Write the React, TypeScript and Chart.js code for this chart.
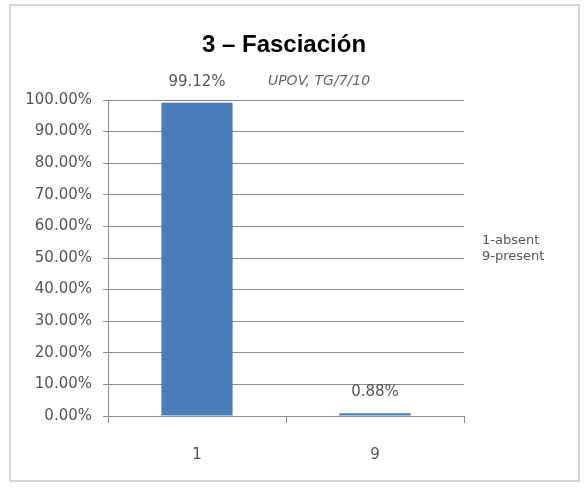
import React, { useEffect, useRef } from "react";
import { Chart, registerables } from "chart.js";

Chart.register(...registerables);

const categories = ["1", "9"];
const values = [0.9912, 0.0088];
const valueLabels = ["99.12%", "0.88%"];
const titleText = "3 – Fasciación";
const sourceText = "UPOV, TG/7/10";
const noteLines = ["1-absent", "9-present"];

const FONT = '"DejaVu Sans", sans-serif';
const TEXT_COLOR = "#555555";

const decorPlugin = {
  id: "decor",
  beforeDraw(chart: any) {
    const ctx = chart.ctx;
    ctx.save();
    ctx.fillStyle = "#ffffff";
    ctx.fillRect(0, 0, chart.width, chart.height);
    ctx.strokeStyle = "#d6d6d6";
    ctx.lineWidth = 2;
    ctx.strokeRect(10, 5, 569, 476);
    ctx.restore();
  },
  afterDraw(chart: any) {
    const ctx = chart.ctx;
    const area = chart.chartArea;
    ctx.save();
    ctx.fillStyle = "#000000";
    ctx.font = 'bold 24px "Liberation Sans", Arial, sans-serif';
    ctx.textAlign = "center";
    ctx.textBaseline = "alphabetic";
    ctx.fillText(titleText, 284, 52);
    const meta = chart.getDatasetMeta(0);
    ctx.font = "15px " + FONT;
    ctx.fillStyle = TEXT_COLOR;
    ctx.textBaseline = "middle";
    meta.data.forEach((bar: any, i: number) => {
      ctx.fillText(valueLabels[i], bar.x, bar.y - 21);
    });
    ctx.font = "italic 14px " + FONT;
    ctx.fillStyle = "#666666";
    ctx.fillText(sourceText, 319, 81);
    ctx.font = "13px " + FONT;
    ctx.fillStyle = TEXT_COLOR;
    ctx.textAlign = "left";
    noteLines.forEach((t, i) => {
      ctx.fillText(t, area.right + 18, 241 + i * 16);
    });
    ctx.restore();
  },
};

export default function App() {
  const ref = useRef<HTMLCanvasElement | null>(null);
  useEffect(() => {
    if (!ref.current) return;
    const chart = new Chart(ref.current, {
      type: "bar",
      data: {
        labels: categories,
        datasets: [
          {
            data: values,
            backgroundColor: "#4a7ebb",
            borderWidth: 0,
            categoryPercentage: 1,
            barPercentage: 0.4,
          },
        ],
      },
      options: {
        responsive: false,
        animation: false,
        devicePixelRatio: 1,
        layout: { padding: { left: 0, right: 120, top: 100, bottom: 0 } },
        plugins: {
          legend: { display: false },
          title: { display: false },
          tooltip: { enabled: false },
        },
        scales: {
          x: {
            grid: {
              offset: true,
              drawOnChartArea: false,
              drawTicks: true,
              tickLength: 7,
              color: "#8c8c8c",
            },
            border: { color: "#8c8c8c" },
            ticks: {
              color: TEXT_COLOR,
              font: { family: FONT, size: 15 },
              padding: 23,
            },
            afterFit(scale: any) {
              scale.height = 73;
            },
          },
          y: {
            min: 0,
            max: 1,
            grid: {
              color: "#8c8c8c",
              tickLength: 5,
              drawTicks: true,
            },
            border: { color: "#8c8c8c" },
            ticks: {
              stepSize: 0.1,
              color: TEXT_COLOR,
              font: { family: FONT, size: 15 },
              padding: 11,
              callback: (v: any) => (Number(v) * 100).toFixed(2) + "%",
            },
            afterFit(scale: any) {
              scale.width = 108;
            },
          },
        },
      },
      plugins: [decorPlugin],
    });
    return () => chart.destroy();
  }, []);
  return (
    <div style={{ position: "absolute", left: 0, top: 0, width: 584, height: 489 }}>
      <canvas ref={ref} width={584} height={489} style={{ width: 584, height: 489, display: "block" }} />
    </div>
  );
}
